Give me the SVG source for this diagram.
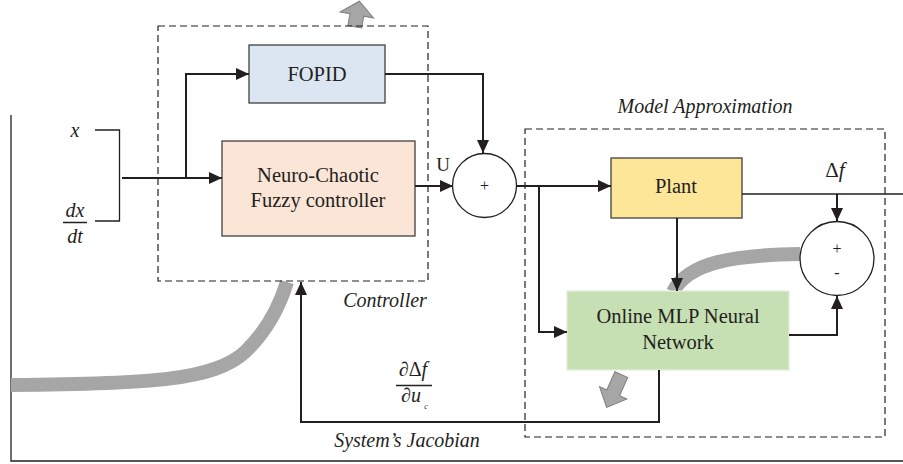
<svg xmlns="http://www.w3.org/2000/svg" width="903" height="464" viewBox="0 0 903 464">
<style>
.ln{fill:none;stroke:#231f20;stroke-width:2}
.thin{fill:none;stroke:#231f20;stroke-width:1.3}
.dash{fill:none;stroke:#231f20;stroke-width:1.2;stroke-dasharray:7 4}
.box{stroke:#404040;stroke-width:1.3}
.gray{fill:none;stroke:#a6a6a6;stroke-width:14}
.blk{fill:#a6a6a6;stroke:#7f7f7f;stroke-width:1}
.t{font-family:"Liberation Serif","Times New Roman",serif;fill:#231f20;text-anchor:middle}
.bt{font-size:20.5px}
.it{font-style:italic;font-size:20px}
</style>
<defs>
<marker id="ah" markerWidth="14" markerHeight="12" refX="13" refY="6" orient="auto" markerUnits="userSpaceOnUse">
<path d="M0,0 L13,6 L0,12 Z" fill="#231f20"/>
</marker>
</defs>

<g id="frame">
<path class="thin" d="M11 115 V461 H903"/>
</g>

<g id="gray-curves">
<path class="gray" d="M11 385 C150 384 215 380 245 352 C268 330 280 305 287 282"/>
<path class="gray" d="M800 254 C735 255 688 262 673 292"/>
<polygon class="blk" transform="translate(357,14) rotate(10)" points="0,-13 17,1 7,1 7,13 -7,13 -7,1 -17,1"/>
<polygon class="blk" transform="translate(614,391) rotate(204)" points="0,-18 15,-2 7,-2 7,18 -7,18 -7,-2 -15,-2"/>
</g>

<g id="controller-box">
<rect class="dash" x="158" y="26" width="270" height="255"/>
<text class="t it" x="385" y="307">Controller</text>
</g>

<g id="model-box">
<rect class="dash" x="525" y="129" width="360" height="308"/>
<text class="t it" x="705" y="113">Model Approximation</text>
</g>

<g id="inputs">
<text class="t" x="75" y="137" font-style="italic" font-size="20">x</text>
<text class="t" x="75" y="217" font-style="italic" font-size="20">dx</text>
<line x1="63" y1="222.5" x2="87" y2="222.5" stroke="#231f20" stroke-width="1.5"/>
<text class="t" x="75" y="243" font-style="italic" font-size="20">dt</text>
<path class="thin" d="M95 130 H119.5 V221 H95"/>
</g>

<g id="fopid">
<rect class="box" x="249" y="45" width="136" height="58" fill="#dce6f2"/>
<text class="t bt" x="317" y="81">FOPID</text>
</g>

<g id="neuro-chaotic">
<rect class="box" x="222" y="141" width="193" height="95" fill="#fbe5d6"/>
<text class="t bt" x="318" y="182">Neuro-Chaotic</text>
<text class="t bt" x="318" y="207">Fuzzy controller</text>
</g>

<g id="sum1">
<circle cx="484.5" cy="185.5" r="32" fill="#fff" stroke="#231f20" stroke-width="1.3"/>
<text class="t" x="484.5" y="191" font-size="16">+</text>
</g>

<g id="plant">
<rect class="box" x="611" y="158" width="131" height="60" fill="#fde698"/>
<text class="t bt" x="676" y="193">Plant</text>
</g>

<g id="sum2">
<circle cx="837" cy="258.5" r="37" fill="#fff" stroke="#231f20" stroke-width="1.3"/>
<text class="t" x="837" y="254" font-size="16">+</text>
<text class="t" x="837" y="278" font-size="16">-</text>
</g>

<g id="mlp">
<rect x="567" y="291" width="222" height="79" fill="#c6e0b4" stroke="#e2efda" stroke-width="1.3"/>
<text class="t bt" x="678" y="323">Online MLP Neural</text>
<text class="t bt" x="678" y="349">Network</text>
</g>

<g id="connectors">
<path class="ln" d="M122 178 H222" marker-end="url(#ah)"/>
<path class="ln" d="M186 178 V74 H249" marker-end="url(#ah)"/>
<path class="ln" d="M415 186 H453" marker-end="url(#ah)"/>
<path class="ln" d="M385 74 H483 V153" marker-end="url(#ah)"/>
<path class="ln" d="M516 186 H611" marker-end="url(#ah)"/>
<path class="ln" d="M539 186 V332 H567" marker-end="url(#ah)"/>
<path class="ln" d="M677 218 V291" marker-end="url(#ah)"/>
<path class="thin" d="M742 194 H903"/>
<path class="ln" d="M837 194 V221" marker-end="url(#ah)"/>
<path class="ln" d="M789 335 H837 V296" marker-end="url(#ah)"/>
<path class="ln" d="M659 370 V422 H301 V282" marker-end="url(#ah)"/>
</g>

<g id="labels">
<text class="t" x="443" y="171" font-size="19">U</text>
<text class="t" x="835" y="177" font-size="21"><tspan>Δ</tspan><tspan font-style="italic">f</tspan></text>
<text class="t" x="413" y="376" font-size="20">∂Δ<tspan font-style="italic">f</tspan></text>
<line x1="396" y1="385.5" x2="432" y2="385.5" stroke="#231f20" stroke-width="1.5"/>
<text class="t" x="411" y="402" font-size="20">∂<tspan font-style="italic">u</tspan></text>
<text class="t" x="426" y="409" font-size="8" font-style="italic">c</text>
<text class="t it" x="407" y="447">System’s Jacobian</text>
</g>
</svg>
